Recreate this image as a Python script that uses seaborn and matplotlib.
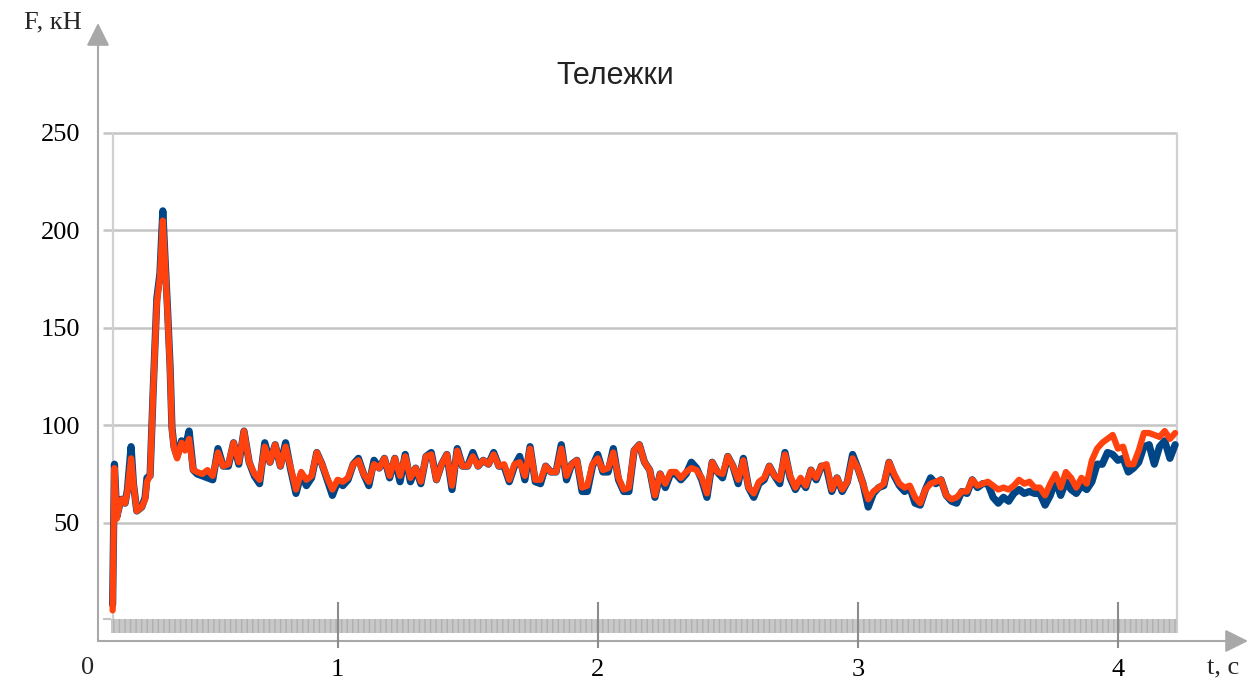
import numpy as np
import pandas as pd
import matplotlib
matplotlib.use("Agg")
import matplotlib.pyplot as plt
import seaborn as sns

# start of the record (irregular reading points), t in s, F in kN
t_start = [0.135, 0.142, 0.151, 0.160, 0.170, 0.183, 0.192, 0.206, 0.215, 0.228,
           0.247, 0.260, 0.267, 0.279, 0.291, 0.305, 0.317, 0.328, 0.336, 0.346,
           0.356, 0.363, 0.371, 0.383, 0.400, 0.413, 0.429, 0.445]
orange_start = [5, 78, 52, 58, 62, 60, 66, 83, 70, 56,
                58, 62, 71, 74, 118, 163, 176, 205, 185, 158,
                128, 98, 88, 83, 91, 87, 93, 77]
blue_start = [8, 80, 53, 58, 62, 60, 67, 89, 70, 56,
              58, 63, 73, 74, 118, 165, 178, 210, 187, 160,
              130, 99, 89, 84, 92, 88, 97, 77]

# rest of the record, sampled every 0.02 s from 0.46 s
t0_grid = 0.46
dt_grid = 0.02
orange_grid = [
    76, 75, 77, 74, 86, 79, 80, 91, 81, 97,
    81, 75, 72, 89, 81, 90, 79, 89, 78, 67,
    76, 72, 74, 86, 80, 73, 67, 72, 71, 73,
    80, 82, 75, 71, 80, 78, 83, 74, 83, 74,
    84, 73, 78, 71, 84, 85, 72, 80, 85, 69,
    87, 79, 79, 84, 79, 82, 80, 85, 79, 80,
    72, 80, 81, 74, 88, 72, 72, 79, 76, 76,
    88, 74, 80, 82, 68, 69, 80, 83, 77, 78,
    86, 73, 67, 68, 87, 90, 81, 77, 64, 75,
    70, 76, 76, 73, 76, 78, 77, 73, 65, 81,
    76, 75, 84, 79, 72, 82, 68, 65, 71, 73,
    79, 74, 72, 85, 74, 68, 73, 69, 77, 73,
    79, 80, 67, 73, 67, 71, 83, 78, 70, 62,
    66, 68, 70, 81, 75, 70, 68, 69, 63, 60,
    67, 70, 71, 72, 64, 62, 63, 66, 66, 72,
    69, 70, 71, 69, 67, 68, 67, 69, 72, 70,
    71, 68, 68, 64, 70, 75, 68, 76, 73, 68,
    73, 70, 82, 88, 91, 93, 95, 88, 89, 80,
    80, 87, 96, 96, 95, 94, 97, 93, 96]
blue_grid = [
    75, 74, 73, 72, 88, 79, 79, 91, 80, 97,
    81, 74, 70, 91, 81, 90, 79, 91, 77, 65,
    75, 69, 73, 86, 80, 72, 64, 71, 69, 72,
    80, 83, 75, 69, 82, 78, 83, 73, 83, 71,
    85, 71, 78, 70, 84, 86, 72, 80, 85, 67,
    88, 79, 79, 86, 79, 82, 80, 86, 79, 79,
    71, 79, 84, 72, 89, 71, 70, 79, 76, 76,
    90, 72, 80, 82, 66, 66, 79, 85, 76, 76,
    88, 72, 66, 66, 87, 90, 81, 77, 63, 75,
    68, 75, 75, 72, 75, 81, 78, 72, 63, 81,
    76, 73, 84, 79, 70, 83, 68, 63, 70, 72,
    79, 74, 70, 86, 73, 67, 72, 68, 77, 72,
    79, 78, 66, 73, 66, 71, 85, 78, 70, 58,
    65, 68, 69, 81, 74, 69, 66, 68, 60, 59,
    67, 73, 70, 72, 64, 61, 60, 66, 65, 72,
    68, 70, 70, 63, 60, 63, 61, 65, 67, 65,
    66, 65, 65, 59, 64, 72, 64, 71, 67, 65,
    69, 67, 71, 80, 80, 86, 85, 82, 83, 76,
    78, 81, 89, 90, 80, 89, 92, 83, 90]

y_ticks = [50, 100, 150, 200, 250]
x_ticks = [1, 2, 3, 4]

t_grid = np.round(t0_grid + dt_grid * np.arange(len(orange_grid)), 3)
df = pd.DataFrame({
    "t": np.concatenate([t_start, t_grid]),
    "blue": blue_start + blue_grid,
    "orange": orange_start + orange_grid,
})

sns.set_style("white")
plt.rcParams["font.family"] = ["Liberation Serif", "DejaVu Serif"]

W, H = 1258, 681
fig = plt.figure(figsize=(W / 100, H / 100), dpi=100)
ax = fig.add_axes([98 / W, 40 / H, 1150 / W, 618 / H])
ax.set_xlim(0.0788, 4.5002)
ax.set_ylim(-10.73, 306.4)

# inner chart: grid, frame, floor band
ax.hlines(y_ticks, 0.098, 4.227, color="#c4c4c4", lw=1.8, zorder=1)
ax.hlines(0.5, 0.098, 0.129, color="#c4c4c4", lw=1.5, zorder=1)
ax.vlines([0.1353, 4.227], -6.7, 250, color="#d0d0d0", lw=1.6, zorder=1)
ax.fill_between([0.129, 4.227], -6.7, 0.5, facecolor="#c8c8c8",
                edgecolor="#b0b0b0", hatch="|||", lw=0, zorder=1)

sns.lineplot(data=df, x="t", y="blue", ax=ax, color="#004586", lw=5.2,
             sort=False, zorder=3, solid_joinstyle="round")
sns.lineplot(data=df, x="t", y="orange", ax=ax, color="#ff420e", lw=4.5,
             sort=False, zorder=4, solid_joinstyle="round")

ax.set_xlabel("")
ax.set_ylabel("")
ax.set_xticks(x_ticks)
ax.set_yticks(y_ticks)
ax.tick_params(axis="both", length=0, labelsize=19, colors="black")
ax.tick_params(axis="x", pad=13)
ax.tick_params(axis="y", pad=13)
ax.vlines(x_ticks, -14.3, 9.3, color="#8c8c8c", lw=1.5, clip_on=False, zorder=5)

for s in ax.spines.values():
    s.set_visible(False)

arrow = dict(arrowstyle="-|>,head_length=0.4,head_width=0.2", color="#a8a8a8",
             lw=1.5, mutation_scale=35, shrinkA=0, shrinkB=0)
ax.annotate("", xy=(0, 1), xytext=(0, 0), xycoords="axes fraction",
            textcoords="axes fraction", arrowprops=arrow, annotation_clip=False)
ax.annotate("", xy=(1, 0), xytext=(0, 0), xycoords="axes fraction",
            textcoords="axes fraction", arrowprops=arrow, annotation_clip=False)

ax.text(0.04, -24.6, "0", fontsize=19, ha="center", va="center", clip_on=False)
ax.text(4.404, -24.6, "t, c", fontsize=19, ha="center", va="center", clip_on=False)
fig.text(53 / W, 1 - 22 / H, "F, кН", fontsize=19, ha="center", va="center")
fig.text(615.5 / W, 1 - 84 / H, "Тележки", fontsize=22, ha="center",
         va="baseline", color="#222222", family=["Liberation Sans", "DejaVu Sans"])

fig.savefig("out.png", dpi=100)
